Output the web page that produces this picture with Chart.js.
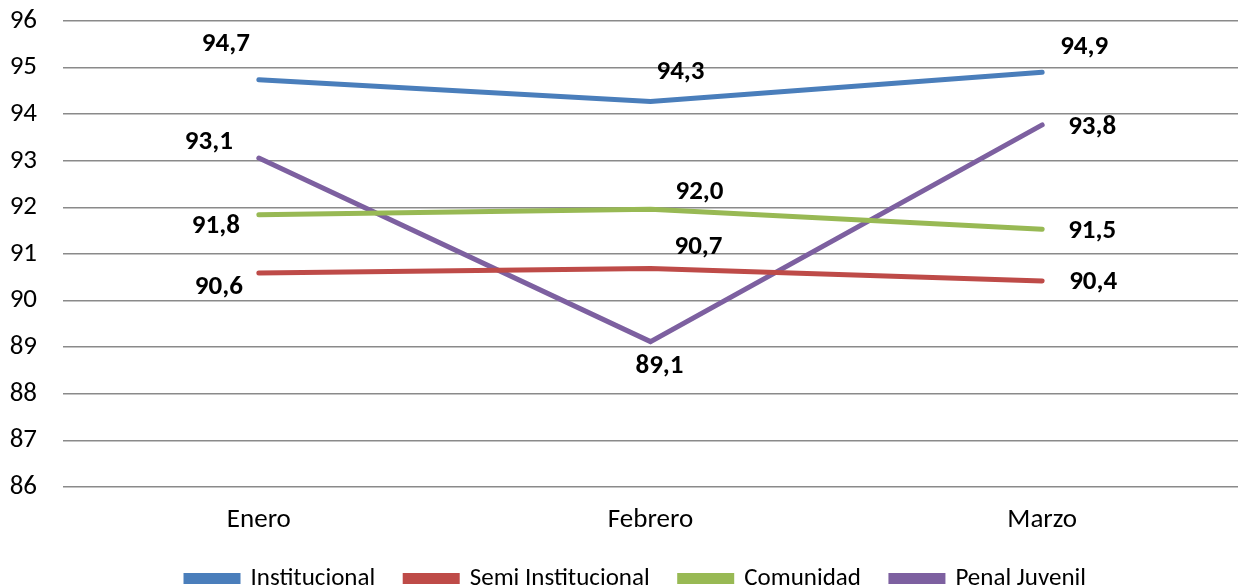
<!DOCTYPE html>
<html>
<head>
<meta charset="utf-8">
<script src="https://cdn.jsdelivr.net/npm/chart.js@4.4.1/dist/chart.umd.min.js"></script>
<style>
html,body{margin:0;padding:0;background:#fff;}
#wrap{width:1238px;height:588px;position:relative;}
</style>
</head>
<body>
<div id="wrap"><canvas id="c" width="1238" height="588"></canvas></div>
<script>
const categories = ["Enero", "Febrero", "Marzo"];
const institucional = [94.74, 94.27, 94.9];
const semiInstitucional = [90.59, 90.69, 90.42];
const comunidad = [91.84, 91.96, 91.53];
const penalJuvenil = [93.06, 89.12, 93.77];
const seriesNames = ["Institucional", "Semi Institucional", "Comunidad", "Penal Juvenil"];
const yTicks = [86, 87, 88, 89, 90, 91, 92, 93, 94, 95, 96];

const colors = ["#4a7ebb", "#be4b48", "#98b954", "#7d60a0"];
// label offsets (dx, dy) relative to each point, per series
const labelOffsets = [
  [[-33, -35], [30, -29], [42, -25]],
  [[-40, 14], [48, -21], [51, 1]],
  [[-43, 11], [49, -17], [50, 2]],
  [[-50, -16], [9, 25], [50, 2]]
];

const FONT = "Carlito, Calibri, Lato, 'Open Sans', sans-serif";

const labelPlugin = {
  id: 'pointLabels',
  afterDatasetsDraw(chart) {
    const ctx = chart.ctx;
    ctx.save();
    ctx.font = "bold 27px " + FONT;
    ctx.fillStyle = "#000";
    ctx.textAlign = "center";
    ctx.textBaseline = "middle";
    chart.data.datasets.forEach((ds, i) => {
      const meta = chart.getDatasetMeta(i);
      meta.data.forEach((pt, j) => {
        const v = ds.data[j];
        const txt = v.toFixed(1).replace('.', ',');
        const off = labelOffsets[i][j];
        ctx.fillText(txt, pt.x + off[0], pt.y + off[1]);
      });
    });
    ctx.restore();
  }
};

const legendShift = {
  id: 'legendShift',
  afterLayout(chart) {
    const l = chart.legend;
    if (l) { l.left += 12; l.right += 12; }
  }
};

const seriesData = [institucional, semiInstitucional, comunidad, penalJuvenil];

new Chart(document.getElementById('c'), {
  type: 'line',
  data: {
    labels: categories,
    datasets: seriesData.map((d, i) => ({
      label: seriesNames[i],
      data: d,
      borderColor: colors[i],
      backgroundColor: colors[i],
      borderWidth: 5,
      pointRadius: 0,
      tension: 0,
      borderCapStyle: 'round',
      borderJoinStyle: 'miter'
    }))
  },
  options: {
    responsive: false,
    animation: false,
    layout: { padding: { top: 0, right: 0, left: 10, bottom: -13 } },
    plugins: {
      legend: {
        position: 'bottom',
        labels: {
          font: { family: FONT, size: 25 },
          color: '#000',
          boxWidth: 52,
          boxHeight: 6,
          padding: 30
        }
      },
      tooltip: { enabled: false }
    },
    scales: {
      x: {
        offset: true,
        grid: { display: false, drawTicks: false },
        border: { display: false },
        ticks: { font: { family: FONT, size: 27, lineHeight: 1 }, color: '#000', padding: 20 },
        afterFit(axis) { axis.height = 49; }
      },
      y: {
        min: 86, max: 96,
        afterBuildTicks(axis) { axis.ticks = yTicks.map(v => ({ value: v })); },
        grid: { color: '#8a8a8a', lineWidth: 1.5, drawTicks: false },
        border: { display: false },
        ticks: { font: { family: FONT, size: 27 }, color: '#000', padding: 26 },
        afterFit(axis) { axis.width = 53; axis.paddingTop = 21; axis.paddingBottom = 0; }
      }
    }
  },
  plugins: [labelPlugin, legendShift]
});
</script>
</body>
</html>
